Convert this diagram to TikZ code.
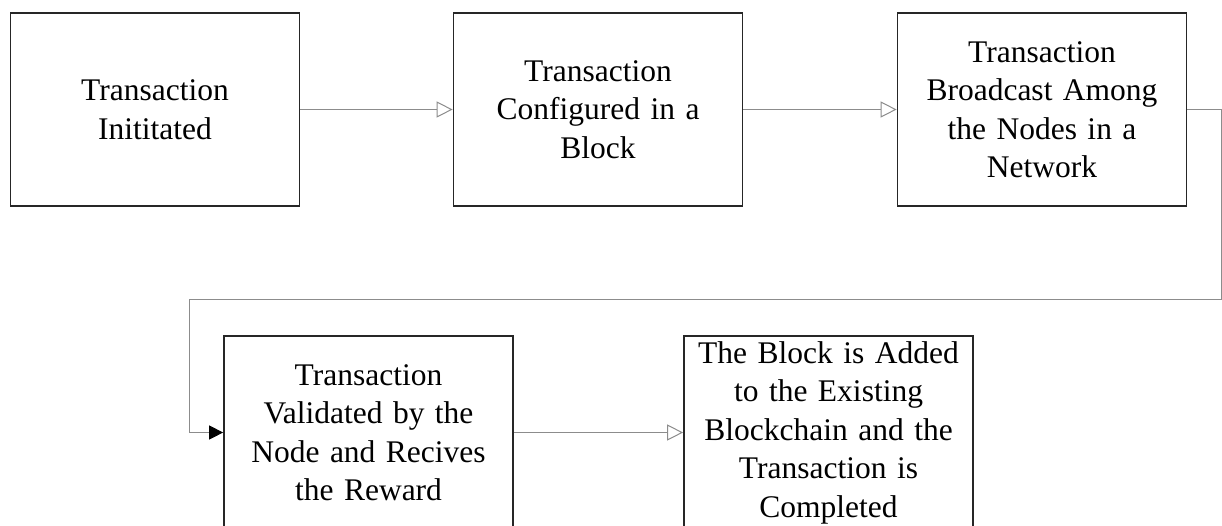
\documentclass[tikz,border=0pt]{standalone}
\usepackage{fontspec}
\setmainfont{Liberation Serif}
\usetikzlibrary{arrows.meta}
\begin{document}
\begin{tikzpicture}[x=1pt,y=-1pt,
  stepbox/.style={draw=black!85, line width=1.7pt, fill=white,
    minimum width=289pt, minimum height=193pt, inner sep=0pt,
    text width=270pt, align=center,
    font=\fontsize{31.5}{38.5}\selectfont},
  flow/.style={draw=black!45, line width=1pt,
    -{Triangle[open, length=16pt, width=16pt, fill=white]}},
  flowend/.style={draw=black!45, line width=1pt,
    -{Triangle[length=14pt, width=14pt, color=black]}}]
\useasboundingbox (0,0) rectangle (1222,525);

\node[stepbox] (b1) at (155,109.5) {Transaction\\Inititated};
\node[stepbox] (b2) at (598,109.5) {Transaction\\Configured in a\\Block};
\node[stepbox] (b3) at (1042,109.5) {Transaction\\Broadcast Among\\the Nodes in a\\Network};
\node[stepbox] (b4) at (368.5,432.5) {Transaction\\Validated by the\\Node and Recives\\the Reward};
\node[stepbox] (b5) at (828.5,432.5) {The Block is Added\\to the Existing\\Blockchain and the\\Transaction is\\Completed};

\coordinate (r1) at (1221,109.5);
\coordinate (r2) at (1221,299);
\coordinate (l1) at (189,299);
\coordinate (l2) at (189,432.5);

\draw[flow] (b1.east) -- (b2.west);
\draw[flow] (b2.east) -- (b3.west);
\draw[flowend] (b3.east) -- (r1) -- (r2) -- (l1) -- (l2) -- (b4.west);
\draw[flow] (b4.east) -- (b5.west);
\end{tikzpicture}
\end{document}
